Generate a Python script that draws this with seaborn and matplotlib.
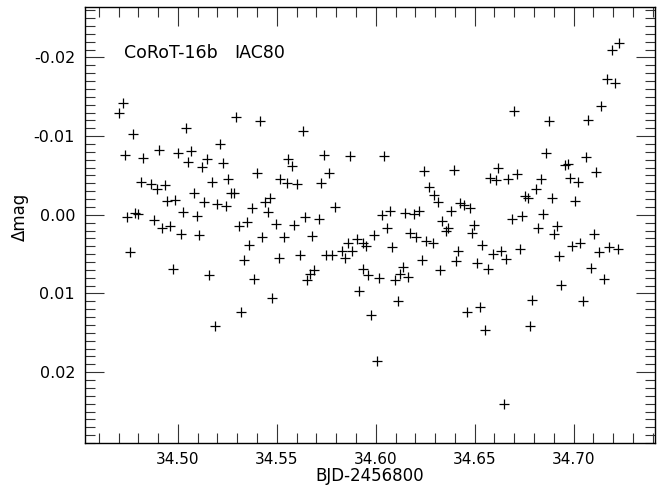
import numpy as np
import pandas as pd
import matplotlib
matplotlib.use("Agg")
import matplotlib.pyplot as plt
from matplotlib.ticker import MultipleLocator, FormatStrFormatter
import seaborn as sns

# time (BJD-2456800) and differential magnitude
bjd = [
    34.4704, 34.4720, 34.4731, 34.4744, 34.4758, 34.4771, 34.4785, 34.4798, 34.4812, 34.4825,
    34.4862, 34.4879, 34.4892, 34.4906, 34.4919, 34.4933, 34.4946, 34.4960, 34.4973, 34.4986,
    34.5000, 34.5014, 34.5024, 34.5040, 34.5052, 34.5064, 34.5081, 34.5094, 34.5108, 34.5120,
    34.5133, 34.5145, 34.5159, 34.5173, 34.5185, 34.5198, 34.5212, 34.5226, 34.5241, 34.5253,
    34.5269, 34.5283, 34.5294, 34.5307, 34.5320, 34.5333, 34.5347, 34.5360, 34.5375, 34.5387,
    34.5402, 34.5414, 34.5424, 34.5441, 34.5455, 34.5468, 34.5478, 34.5496, 34.5509, 34.5515,
    34.5535, 34.5549, 34.5559, 34.5579, 34.5589, 34.5603, 34.5616, 34.5630, 34.5643, 34.5654,
    34.5667, 34.5680, 34.5690, 34.5711, 34.5721, 34.5737, 34.5751, 34.5764, 34.5778, 34.5794,
    34.5832, 34.5845, 34.5859, 34.5872, 34.5882, 34.5903, 34.5913, 34.5936, 34.5936, 34.5953,
    34.5963, 34.5976, 34.5993, 34.6004, 34.6017, 34.6030, 34.6044, 34.6057, 34.6071, 34.6084,
    34.6097, 34.6111, 34.6121, 34.6138, 34.6149, 34.6162, 34.6175, 34.6195, 34.6202, 34.6219,
    34.6232, 34.6246, 34.6256, 34.6269, 34.6289, 34.6296, 34.6313, 34.6327, 34.6337, 34.6354,
    34.6367, 34.6380, 34.6394, 34.6408, 34.6418, 34.6428, 34.6444, 34.6461, 34.6475, 34.6488,
    34.6498, 34.6512, 34.6525, 34.6539, 34.6552, 34.6569, 34.6576, 34.6592, 34.6606, 34.6620,
    34.6633, 34.6646, 34.6660, 34.6670, 34.6687, 34.6701, 34.6714, 34.6727, 34.6741, 34.6753,
    34.6768, 34.6781, 34.6791, 34.6808, 34.6822, 34.6835, 34.6847, 34.6860, 34.6874, 34.6889,
    34.6901, 34.6914, 34.6929, 34.6939, 34.6956, 34.6970, 34.6980, 34.6993, 34.7008, 34.7022,
    34.7034, 34.7047, 34.7062, 34.7074, 34.7087, 34.7101, 34.7116, 34.7128, 34.7141, 34.7153,
    34.7167, 34.7178, 34.7195, 34.7209, 34.7224, 34.7232,
]
dmag = [
    -0.01292, -0.01423, -0.00762, 0.00025, 0.00474, -0.01022, -0.00028, -0.00013, -0.00419, -0.00720,
    -0.00390, 0.00064, -0.00330, -0.00822, 0.00163, -0.00374, -0.00180, 0.00144, 0.00694, -0.00193,
    -0.00788, 0.00245, -0.00034, -0.01108, -0.00670, -0.00806, -0.00280, 0.00017, 0.00254, -0.00602,
    -0.00158, -0.00712, 0.00770, -0.00416, 0.01414, -0.00140, -0.00896, -0.00653, -0.00117, -0.00460,
    -0.00280, -0.00280, -0.01238, 0.00140, 0.01240, 0.00579, 0.00097, 0.00389, -0.00081, 0.00821,
    -0.00530, -0.01194, 0.00283, -0.00161, -0.00034, -0.00212, 0.01062, 0.00122, 0.00554, -0.00457,
    0.00287, -0.00407, -0.00712, -0.00619, 0.00127, -0.00390, 0.00516, -0.01070, 0.00029, 0.00834,
    0.00754, 0.00271, 0.00703, 0.00058, -0.00407, -0.00755, 0.00508, -0.00526, 0.00508, -0.00094,
    0.00457, 0.00550, 0.00356, -0.00746, 0.00457, 0.00313, 0.00966, 0.00363, 0.00694, 0.00398,
    0.00770, 0.01271, 0.00262, 0.01855, 0.00804, 0.00008, -0.00746, 0.00169, -0.00051, 0.00407,
    0.00830, 0.01093, 0.00747, 0.00665, -0.00022, 0.00788, 0.00236, -0.00009, 0.00287, -0.00051,
    0.00576, -0.00551, 0.00330, -0.00348, 0.00356, -0.00254, -0.00161, 0.00703, 0.00084, 0.00211,
    0.00169, -0.00043, -0.00568, 0.00592, 0.00457, -0.00152, -0.00119, 0.01236, -0.00085, 0.00236,
    0.00131, 0.00614, 0.01177, 0.00381, 0.01459, 0.00694, -0.00473, 0.00493, -0.00441, -0.00590,
    0.00465, 0.02405, 0.00559, -0.00454, 0.00051, -0.01321, -0.00517, 0.00440, 0.00013, -0.00234,
    -0.00212, 0.01410, 0.01078, -0.00327, 0.00173, -0.00457, -0.00005, -0.00780, -0.01194, -0.00216,
    0.00245, 0.00144, 0.00525, 0.00889, -0.00632, -0.00644, -0.00470, 0.00398, -0.00170, -0.00412,
    0.00360, 0.01100, -0.00733, -0.01200, 0.00677, 0.00249, -0.00546, 0.00474, -0.01385, 0.00813,
    -0.01720, 0.00414, -0.02093, -0.01677, 0.00440, -0.02182,
]

df = pd.DataFrame({"BJD": bjd, "dmag": dmag})

sns.set_style("ticks")
plt.rcParams["font.family"] = ["DejaVu Sans"]
plt.rcParams["axes.unicode_minus"] = False
plt.rcParams["text.color"] = "black"
plt.rcParams["axes.labelcolor"] = "black"
plt.rcParams["xtick.labelcolor"] = "black"
plt.rcParams["ytick.labelcolor"] = "black"

fig = plt.figure(figsize=(6.57, 4.91), dpi=100)
ax = fig.add_axes([0.129, 0.097, 0.868, 0.889])

sns.scatterplot(data=df, x="BJD", y="dmag", marker="+", color="black",
                s=55, linewidth=0.9, ax=ax, legend=False)

ax.set_xlim(34.4529, 34.7412)
ax.set_ylim(0.02905, -0.02643)

ax.xaxis.set_major_locator(MultipleLocator(0.05))
ax.xaxis.set_minor_locator(MultipleLocator(0.01))
ax.yaxis.set_major_locator(MultipleLocator(0.01))
ax.yaxis.set_minor_locator(MultipleLocator(0.001))
ax.xaxis.set_major_formatter(FormatStrFormatter("%.2f"))
ax.yaxis.set_major_formatter(FormatStrFormatter("%.2f"))

ax.tick_params(which="both", direction="in", top=True, right=True,
               color="#333333", width=0.8, labelsize=11)
ax.tick_params(which="major", length=14)
ax.tick_params(which="minor", length=7)
ax.tick_params(axis="x", which="major", pad=6)
ax.tick_params(axis="y", which="major", pad=7, labelsize=11.5)

for sp in ax.spines.values():
    sp.set_linewidth(1.0)
    sp.set_color("black")

ax.set_xlabel("BJD-2456800", fontsize=12, labelpad=0)
ax.set_ylabel("Δmag", fontsize=12)
ax.yaxis.set_label_coords(-0.098, 0.52)

ax.text(0.068, 0.895, "CoRoT-16b", transform=ax.transAxes, fontsize=12.5, va="center")
ax.text(0.263, 0.895, "IAC80", transform=ax.transAxes, fontsize=12.5, va="center")

fig.savefig("out.png", dpi=100)
